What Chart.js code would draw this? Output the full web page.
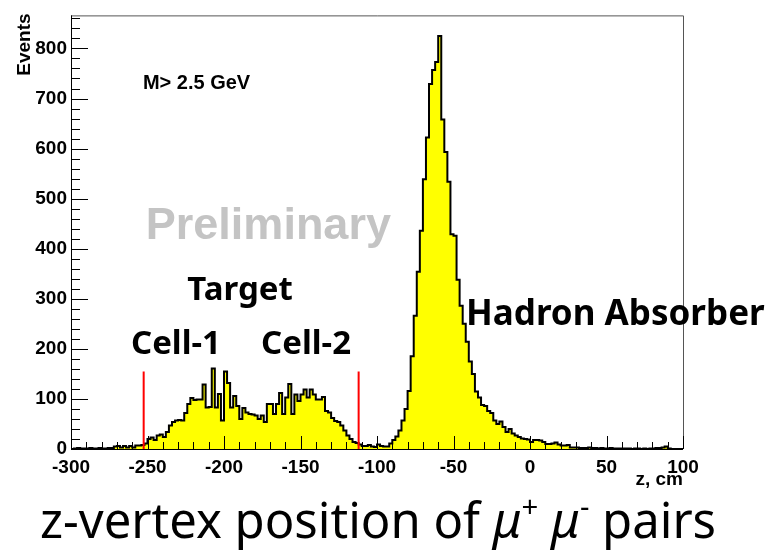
<!DOCTYPE html>
<html>
<head>
<meta charset="utf-8">
<script src="https://cdn.jsdelivr.net/npm/chart.js@4.4.1/dist/chart.umd.min.js"></script>
<style>
	html, body { margin: 0; padding: 0; background: #fff; }
	#wrap { position: relative; width: 771px; height: 554px; overflow: hidden; }
	#chart { position: absolute; left: 0; top: 0; }
	#caption { position: absolute; left: 40px; top: 495px; font: 49px "Noto Sans", sans-serif; line-height: 1; white-space: nowrap; color: #000; }
	#caption sup { font-size: 0.6em; vertical-align: 0.7em; line-height: 0; }
</style>
</head>
<body>
<div id="wrap">
	<canvas id="chart" width="771" height="554"></canvas>
	<div id="caption">z-vertex position of <i>μ</i><sup>+</sup> <i>μ</i><sup>-</sup> pairs</div>
</div>
<script>
// z-vertex histogram, 2 cm bins from -300 to 100 cm
const Z_MIN = -300, Z_MAX = 100, BIN = 2;
const Y_MAX = 866;

// events per bin, 10 bins (20 cm) per row
const events = [
	0, 1, 2, 1, 1, 1, 2, 1, 1, 2,              // -300
	1, 1, 2, 2, 5, 6, 3, 6, 3, 6,              // -280
	3, 7, 7, 8, 11, 20, 23, 18, 27, 29,        // -260
	24, 34, 47, 54, 57, 58, 57, 72, 90, 102,   // -240
	98, 99, 99, 129, 83, 84, 161, 83, 110, 57, // -220
	155, 132, 83, 106, 86, 60, 82, 73, 70, 69, // -200
	67, 60, 67, 54, 90, 90, 70, 90, 112, 70,   // -180
	103, 130, 70, 109, 96, 109, 119, 103, 119, 109, // -160
	99, 99, 104, 76, 73, 62, 56, 54, 47, 37,   // -140
	27, 20, 14, 12, 9, 6, 6, 8, 5, 4,          // -120
	9, 6, 5, 5, 11, 18, 25, 37, 57, 80,        // -100
	116, 185, 266, 354, 436, 539, 622, 729, 757, 773, // -80
	825, 658, 593, 534, 429, 426, 338, 286, 250, 214, // -60
	175, 150, 115, 103, 88, 86, 76, 72, 57, 50, // -40
	55, 44, 34, 40, 31, 27, 24, 21, 20, 19,    // -20
	14, 18, 18, 17, 14, 10, 10, 11, 13, 9,     // 0
	7, 7, 8, 3, 3, 3, 2, 2, 2, 3,              // 20
	2, 2, 1, 2, 1, 1, 2, 1, 1, 1,              // 40
	1, 1, 1, 0, 1, 1, 0, 1, 0, 1,              // 60
	1, 2, 2, 3, 5, 1, 0, 0, 0, 0               // 80
];

// target cell boundaries (red lines)
const cutPositions = [-252.5, -112];
const cutHeight = 155;

const xTickValues = [-300, -250, -200, -150, -100, -50, 0, 50, 100];
const yTickValues = [0, 100, 200, 300, 400, 500, 600, 700, 800];

// labels placed in data coordinates
const notes = [
	{ text: 'M> 2.5 GeV', x: -253, y: 731, font: 'bold 20px "Liberation Sans"', color: '#000', align: 'left' },
	{ text: 'Preliminary', x: -171, y: 445, font: 'bold 45px "Liberation Sans"', color: '#c4c4c4', align: 'center' },
	{ text: 'Target', x: -189.5, y: 316, font: 'bold 33px "Noto Sans"', color: '#000', align: 'center' },
	{ text: 'Cell-1', x: -231.4, y: 208, font: 'bold 33px "Noto Sans"', color: '#000', align: 'center' },
	{ text: 'Cell-2', x: -146.4, y: 208, font: 'bold 33px "Noto Sans"', color: '#000', align: 'center' },
	{ text: 'Hadron Absorber', x: -41.8, y: 267, font: 'bold 35px "Noto Sans"', color: '#000', align: 'left' }
];

const histPoints = events.map((v, i) => ({ x: Z_MIN + i * BIN, y: v }));
histPoints.push({ x: Z_MAX, y: events[events.length - 1] });

const cutSets = cutPositions.map(z => ({
	data: [{ x: z, y: 0 }, { x: z, y: cutHeight }],
	borderColor: '#ff0000',
	borderWidth: 2,
	pointRadius: 0,
	fill: false,
	order: 0
}));

// ROOT style axes: ticks inside, frame on top/right
const rootFrame = {
	id: 'rootFrame',
	afterDatasetsDraw(chart) {
		const { ctx, chartArea: a, scales: { x, y } } = chart;
		ctx.save();
		ctx.strokeStyle = '#555';
		ctx.lineWidth = 1;
		ctx.beginPath();
		ctx.moveTo(a.left, a.top + 0.5);
		ctx.lineTo(a.right + 0.5, a.top + 0.5);
		ctx.lineTo(a.right + 0.5, a.bottom);
		ctx.stroke();

		ctx.strokeStyle = '#000';
		ctx.beginPath();
		ctx.moveTo(a.left + 0.5, a.top);
		ctx.lineTo(a.left + 0.5, a.bottom + 0.5);
		ctx.lineTo(a.right, a.bottom + 0.5);
		for (let v = 0; v <= Y_MAX; v += 20) {
			const py = Math.round(y.getPixelForValue(v)) + 0.5;
			const len = v % 100 === 0 ? 17 : 9;
			ctx.moveTo(a.left, py);
			ctx.lineTo(a.left + len, py);
		}
		for (let v = Z_MIN; v <= Z_MAX; v += 10) {
			const px = Math.round(x.getPixelForValue(v)) + 0.5;
			const len = v % 50 === 0 ? 13 : 7;
			ctx.moveTo(px, a.bottom);
			ctx.lineTo(px, a.bottom - len);
		}
		ctx.stroke();
		ctx.restore();
	}
};

const rootText = {
	id: 'rootText',
	afterDraw(chart) {
		const { ctx, chartArea: a, scales: { x, y } } = chart;
		ctx.save();
		notes.forEach(n => {
			ctx.font = n.font;
			ctx.fillStyle = n.color;
			ctx.textAlign = n.align;
			ctx.textBaseline = 'middle';
			ctx.fillText(n.text, x.getPixelForValue(n.x), y.getPixelForValue(n.y));
		});
		// axis titles
		ctx.fillStyle = '#000';
		ctx.font = 'bold 19px "Liberation Sans"';
		ctx.textAlign = 'right';
		ctx.textBaseline = 'alphabetic';
		ctx.fillText('z, cm', a.right, a.bottom + 36);
		ctx.translate(a.left - 41, a.top - 2);
		ctx.rotate(-Math.PI / 2);
		ctx.fillText('Events', 0, 0);
		ctx.restore();
	}
};

const tickFont = { family: 'Liberation Sans', size: 19, weight: 'bold' };

new Chart(document.getElementById('chart'), {
	type: 'line',
	data: {
		datasets: [{
			data: histPoints,
			stepped: 'before',
			borderColor: '#000',
			borderWidth: 2,
			backgroundColor: '#ffff00',
			fill: 'origin',
			pointRadius: 0,
			order: 1
		}, ...cutSets]
	},
	options: {
		responsive: false,
		animation: false,
		devicePixelRatio: 1,
		layout: { padding: { left: 0, top: 8, right: 88, bottom: 65 } },
		plugins: { legend: { display: false }, tooltip: { enabled: false } },
		scales: {
			x: {
				type: 'linear',
				min: Z_MIN,
				max: Z_MAX,
				afterBuildTicks: s => { s.ticks = xTickValues.map(v => ({ value: v })); },
				afterFit: s => { s.height = 40; },
				grid: { display: false, drawTicks: false },
				border: { display: false },
				ticks: { font: tickFont, color: '#000', padding: 7, maxRotation: 0, autoSkip: false }
			},
			y: {
				type: 'linear',
				min: 0,
				max: Y_MAX,
				afterBuildTicks: s => { s.ticks = yTickValues.map(v => ({ value: v })); },
				afterFit: s => { s.width = 71; },
				grid: { display: false, drawTicks: false },
				border: { display: false },
				ticks: { font: tickFont, color: '#000', padding: 4, autoSkip: false }
			}
		}
	},
	plugins: [rootFrame, rootText]
});
</script>
</body>
</html>
